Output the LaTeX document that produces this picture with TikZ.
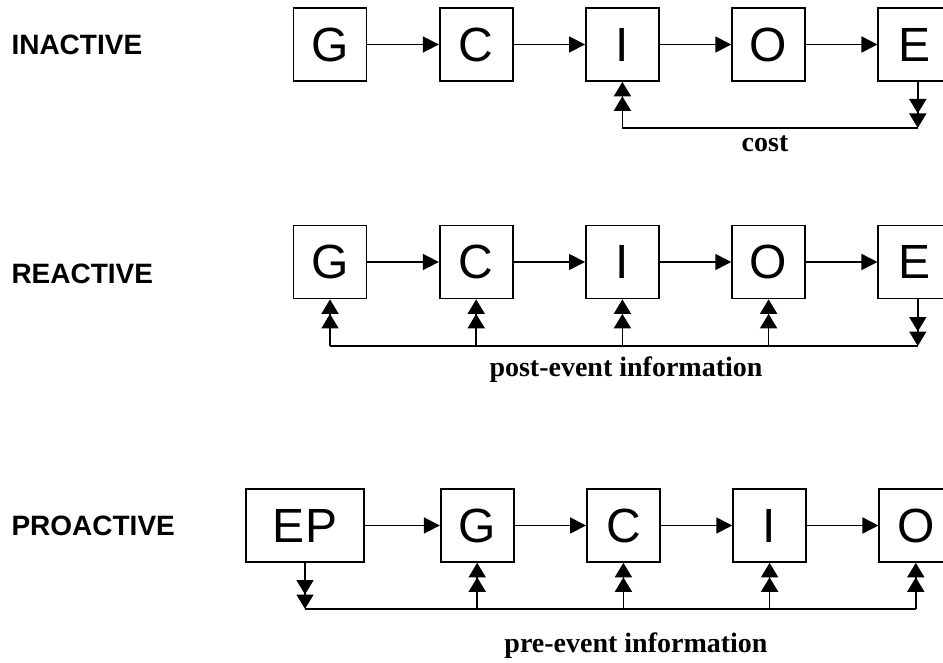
\documentclass[tikz,border=0pt]{standalone}
\usepackage{fontspec}
\setmainfont{Liberation Serif}
\setsansfont{Liberation Sans}
\usetikzlibrary{arrows.meta,positioning}

\tikzset{
  stage/.style={draw, line width=1.7pt, minimum width=73pt, minimum height=73pt, inner sep=0pt,
    font=\sffamily\fontsize{48}{48}\selectfont},
  widestage/.style={stage, minimum width=118pt},
  flow/.style={line width=1.7pt, -{Triangle[length=16pt,width=16pt]}},
  loop/.style={line width=1.7pt, -{Triangle[length=14.5pt,width=17pt,sep=0pt]Triangle[length=14.5pt,width=17pt]}},
  bus/.style={line width=1.7pt},
  mode/.style={anchor=west, font=\sffamily\bfseries\fontsize{28}{28}\selectfont},
  info/.style={anchor=base, font=\bfseries\fontsize{28}{28}\selectfont}
}

\begin{document}
\begin{tikzpicture}[x=1pt,y=-1pt]
\useasboundingbox (0,0) rectangle (943,663);

% inactive
\node[mode] (inactive) at (8,45) {INACTIVE};
\node[stage] (g1) at (330,44.5) {G};
\node[stage] [right = 71.5pt of g1] (c1) {C};
\node[stage] [right = 71.5pt of c1] (i1) {I};
\node[stage] [right = 71.5pt of i1] (o1) {O};
\node[stage] [right = 71.5pt of o1] (e1) {E};
\coordinate (l1) at (0,128);
\draw[flow] (g1) -- (c1);
\draw[flow] (c1) -- (i1);
\draw[flow] (i1) -- (o1);
\draw[flow] (o1) -- (e1);
\draw[loop] ([xshift=3pt]e1.south) -- ([xshift=3pt]e1.south |- l1);
\draw[bus] ([xshift=3pt]e1.south |- l1) -- (i1.south |- l1);
\draw[loop] (i1.south |- l1) -- (i1.south);
\node[info] (cost) at (765,152) {cost};

% reactive
\node[mode] (reactive) at (8,274) {REACTIVE};
\node[stage] (g2) at (330,262) {G};
\node[stage] [right = 71.5pt of g2] (c2) {C};
\node[stage] [right = 71.5pt of c2] (i2) {I};
\node[stage] [right = 71.5pt of i2] (o2) {O};
\node[stage] [right = 71.5pt of o2] (e2) {E};
\coordinate (l2) at (0,346);
\draw[flow] (g2) -- (c2);
\draw[flow] (c2) -- (i2);
\draw[flow] (i2) -- (o2);
\draw[flow] (o2) -- (e2);
\draw[loop] ([xshift=3pt]e2.south) -- ([xshift=3pt]e2.south |- l2);
\draw[bus] ([xshift=3pt]e2.south |- l2) -- (g2.south |- l2);
\foreach \n in {g2,c2,i2,o2}
  \draw[loop] (\n.south |- l2) -- (\n.south);
\node[info] (post) at (626,376) {post-event information};

% proactive
\node[mode] (proactive) at (8,526) {PROACTIVE};
\node[widestage] (ep3) at (305,525.5) {EP};
\node[stage] [right = 75pt of ep3] (g3) {G};
\node[stage] [right = 71.5pt of g3] (c3) {C};
\node[stage] [right = 71.5pt of c3] (i3) {I};
\node[stage] [right = 71.5pt of i3] (o3) {O};
\coordinate (l3) at (0,609);
\draw[flow] (ep3) -- (g3);
\draw[flow] (g3) -- (c3);
\draw[flow] (c3) -- (i3);
\draw[flow] (i3) -- (o3);
\draw[loop] (ep3.south) -- (ep3.south |- l3);
\draw[bus] (ep3.south |- l3) -- (o3.south |- l3);
\foreach \n in {g3,c3,i3,o3}
  \draw[loop] (\n.south |- l3) -- (\n.south);
\node[info] (pre) at (636,652) {pre-event information};
\end{tikzpicture}
\end{document}
